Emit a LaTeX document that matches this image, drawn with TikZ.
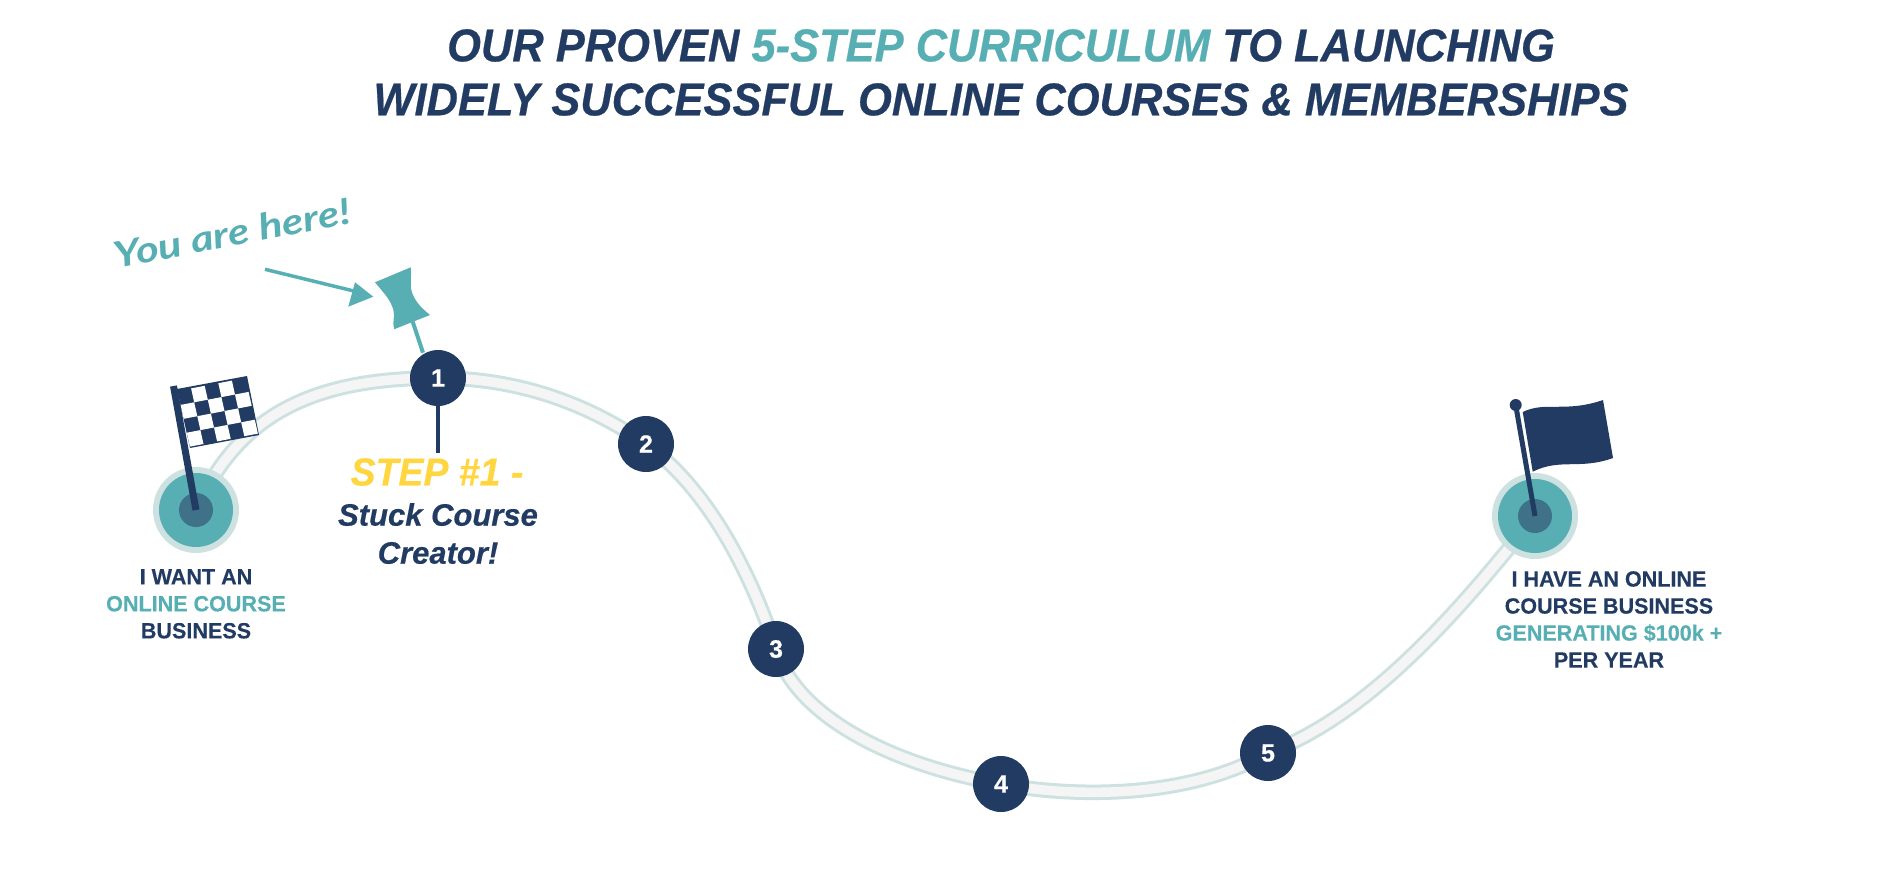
\documentclass[tikz,border=0pt]{standalone}
\usepackage{fontspec}
\setmainfont{Liberation Sans}
\newfontfamily\handfont[FakeStretch=1.22]{Lato}
\usetikzlibrary{backgrounds}
\definecolor{navy}{HTML}{223B63}
\definecolor{teal2}{HTML}{57AFB4}
\definecolor{core}{HTML}{3F7189}
\definecolor{edge2}{HTML}{CDE1E1}
\definecolor{inner2}{HTML}{F5F5F5}
\definecolor{gold}{HTML}{FFD540}
\tikzset{
  stepdot/.style={circle,fill=navy,minimum size=56pt,inner sep=0pt,text=white,font=\fontsize{25}{28}\selectfont\bfseries\addfontfeature{FakeBold=0.5}},
  halo/.style={circle,fill=edge2,minimum size=86pt,inner sep=0pt},
  disc/.style={circle,fill=teal2,minimum size=74pt,inner sep=0pt},
  coredot/.style={circle,fill=core,minimum size=34pt,inner sep=0pt},
  headline/.style={anchor=north,inner sep=0pt,align=center,text=navy,font=\fontsize{46}{54}\selectfont\bfseries\itshape\addfontfeature{FakeStretch=0.945,FakeBold=0.5}},
  caption/.style={anchor=north,inner sep=0pt,align=center,text=navy,font=\fontsize{22}{27}\selectfont\bfseries\addfontfeature{FakeStretch=0.98,FakeBold=0.3}},
  pole/.style={navy,line width=7pt},
}
\newcommand{\roadline}{(start.center) .. controls (240,410) and (320,378) .. (n1.center)
  .. controls (520,378) and (590,405) .. (n2.center)
  .. controls (705,487) and (748,565) .. (n3.center)
  .. controls (795,715) and (890,765) .. (n4.center)
  .. controls (1070,797) and (1185,800) .. (n5.center)
  .. controls (1370,715) and (1460,610) .. (finish.center)}
\begin{document}
\begin{tikzpicture}[x=1pt,y=-1pt]
\useasboundingbox (0,0) rectangle (1897,895);
% title
\node[headline] (title) at (1001,29) {OUR PROVEN \textcolor{teal2}{5-STEP CURRICULUM} TO LAUNCHING\\WIDELY SUCCESSFUL ONLINE COURSES \& MEMBERSHIPS};
% step dots
\node[stepdot] (n1) at (438,378) {1};
\node[stepdot] (n2) at (646,444) {2};
\node[stepdot] (n3) at (776,649) {3};
\node[stepdot] (n4) at (1001,784) {4};
\node[stepdot] (n5) at (1268,753) {5};
% start and finish targets
\node[halo] (start) at (196,510) {};
\node[disc] (startdisc) at (start.center) {};
\node[coredot] (startcore) at (start.center) {};
\node[halo] (finish) at (1535,516) {};
\node[disc] (finishdisc) at (finish.center) {};
\node[coredot] (finishcore) at (finish.center) {};
% road
\begin{pgfonlayer}{background}
\draw[edge2,line width=15.5pt] \roadline;
\draw[inner2,line width=9.5pt] \roadline;
\end{pgfonlayer}
% start flag
\fill[navy] (177,389) -- (247,376) -- (259,435) -- (190,448) -- cycle;
\foreach \i in {0,...,4}{\foreach \j in {0,...,3}{
  \pgfmathparse{int(mod(\i+\j,2))}
  \ifnum\pgfmathresult=1
  \fill[white] ({177.5+13.6*\i+3.1*\j},{391-2.6*\i+13.9*\j}) -- ++(13.6,-2.6) -- ++(3.1,13.9) -- ++(-13.6,2.6) -- cycle;
  \fi
}}
\coordinate (starttop) at (173.5,386);
\draw[pole] (starttop) -- (startcore.center);
% finish flag
\coordinate (finishtop) at (1515.7,405);
\fill[navy] (1522.7,412) .. controls (1545,401) and (1565,413) .. (1603,400)
  -- (1613,458) .. controls (1580,470) and (1560,458) .. (1532.7,471.7) -- cycle;
\draw[navy,line width=5pt] (finishtop) -- (finishcore.center);
\fill[navy] (finishtop) circle (6);
% step 1 label and stem
\coordinate (stemend) at (438,452.7);
\draw[navy,line width=4pt] (n1.south) -- (stemend);
\node[anchor=north,inner sep=0pt,text=gold,font=\fontsize{39}{45}\selectfont\bfseries\itshape\addfontfeature{FakeStretch=0.96,FakeBold=0.5}] (steplabel) at (437,458) {STEP \#1 -};
\node[anchor=north,inner sep=0pt,align=center,text=navy,font=\fontsize{31}{38}\selectfont\bfseries\itshape\addfontfeature{FakeBold=0.5}] (stepname) at (438,503) {Stuck Course\\Creator!};
% captions
\node[caption] (startcap) at (196,569) {I WANT AN\\\textcolor{teal2}{ONLINE COURSE}\\BUSINESS};
\node[caption] (finishcap) at (1609,571) {I HAVE AN ONLINE\\COURSE BUSINESS\\\textcolor{teal2}{GENERATING \$100k +}\\PER YEAR};
% pin
\coordinate (pinbase) at (412.7,321.7);
\coordinate (pintip) at (423,352.7);
\draw[teal2,line width=4pt] (pinbase) -- (pintip);
\fill[teal2] (375,282.3) -- (410.7,267.3) .. controls (412,278) and (409,287) .. (413,295)
  .. controls (417,304) and (423,309) .. (430,315) -- (394,329.3)
  .. controls (392,322) and (396,314) .. (392,306)
  .. controls (389,298) and (382,291) .. (375,282.3) -- cycle;
% you are here
\node[rotate=11,inner sep=0pt,text=teal2,font=\fontsize{36}{42}\selectfont\handfont\bfseries\itshape] (here) at (232,233) {You are here!};
\coordinate (arrowtail) at (265,269.3);
\coordinate (arrowhead) at (356.7,291.7);
\draw[teal2,line width=3.5pt] (arrowtail) -- (arrowhead);
\fill[teal2] (355,282.3) -- (373.3,296.7) -- (348.3,306.7) -- cycle;
\end{tikzpicture}
\end{document}
